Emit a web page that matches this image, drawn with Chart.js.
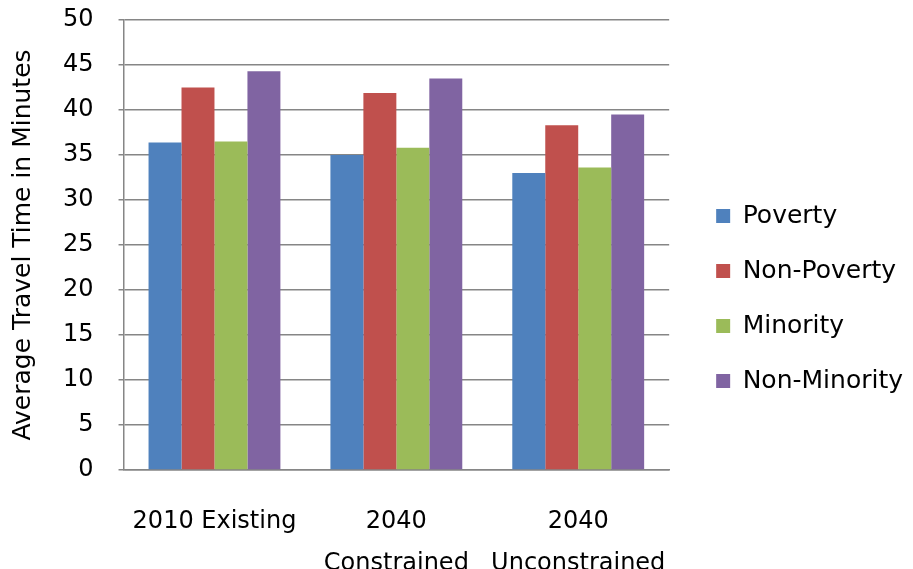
<!DOCTYPE html>
<html>
<head>
<meta charset="utf-8">
<script src="https://cdn.jsdelivr.net/npm/chart.js@4/dist/chart.umd.min.js"></script>
<style>
  body { margin: 0; background: #fff; }
</style>
</head>
<body>
<canvas id="myChart" width="913" height="569"></canvas>
<script>
const categories = [['2010 Existing'], ['2040', 'Constrained'], ['2040', 'Unconstrained']];
const poverty = [36.4, 35.0, 33.0];
const nonPoverty = [42.5, 41.9, 38.3];
const minority = [36.5, 35.8, 33.6];
const nonMinority = [44.3, 43.5, 39.5];
const yTicks = [0, 5, 10, 15, 20, 25, 30, 35, 40, 45, 50];

chartIt();
function chartIt(){
const ctx = document.getElementById('myChart').getContext('2d');
const font = 'DejaVu Sans';
const myChart = new Chart(ctx, {
    type: 'bar',
    data: {
        labels: categories,
        datasets: [
            { label: 'Poverty', data: poverty, backgroundColor: '#4F81BD' },
            { label: 'Non-Poverty', data: nonPoverty, backgroundColor: '#C0504D' },
            { label: 'Minority', data: minority, backgroundColor: '#9BBB59' },
            { label: 'Non-Minority', data: nonMinority, backgroundColor: '#8064A2' }
        ]
    },
    options: {
        responsive: false,
        animation: false,
        categoryPercentage: 0.725,
        barPercentage: 1,
        layout: { padding: { top: 6, left: 8, right: 0, bottom: 0 } },
        plugins: {
            tooltip: { enabled: false },
            legend: {
                position: 'right',
                maxWidth: 400,
                // blank title just nudges the items down a bit
                title: { display: true, text: ' ', font: { size: 10 }, padding: 5 },
                labels: {
                    color: '#000',
                    font: { family: font, size: 25 },
                    boxWidth: 14,
                    boxHeight: 14,
                    padding: 30
                }
            }
        },
        scales: {
            x: {
                grid: { display: false },
                border: { color: '#868686', width: 1.5 },
                ticks: {
                    color: '#000',
                    font: { family: font, size: 24, lineHeight: 1.75 },
                    padding: 23,
                    maxRotation: 0
                },
                afterFit: scale => { scale.height = 99; }
            },
            y: {
                min: 0,
                max: 50,
                afterBuildTicks: axis => { axis.ticks = yTicks.map(v => ({ value: v })); },
                afterFit: scale => { scale.paddingTop = 20; },
                grid: { color: '#868686', lineWidth: 1.5, tickLength: 5 },
                border: { color: '#868686', width: 1.5 },
                ticks: {
                    color: '#000',
                    font: { family: font, size: 24 },
                    padding: 25
                },
                title: {
                    display: true,
                    text: 'Average Travel Time in Minutes',
                    color: '#000',
                    font: { family: font, size: 25 },
                    padding: { top: 0, bottom: 0 }
                }
            },
            gap: {
                position: 'right',
                display: true,
                grid: { display: false },
                border: { display: false },
                ticks: { display: false },
                afterFit: scale => { scale.width = 17; }
            }
        }
    }
});
}
</script>
</body>
</html>
